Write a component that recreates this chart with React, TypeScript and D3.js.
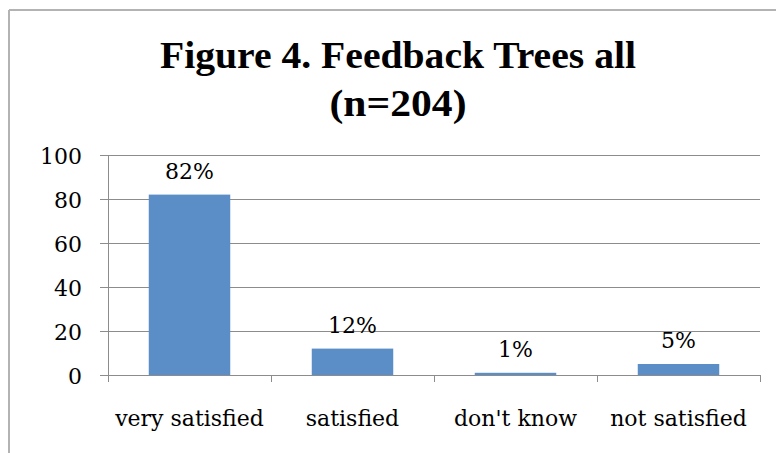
import React from "react";
import * as d3 from "d3";

const categories = ["very satisfied", "satisfied", "don't know", "not satisfied"];
const values = [82, 12, 1, 5];
const valueLabels = ["82%", "12%", "1%", "5%"];
const yTicks = [0, 20, 40, 60, 80, 100];
const titleLines = ["Figure 4. Feedback Trees all", "(n=204)"];

export default function App() {
  const W = 776, H = 453;
  const left = 108, right = 760, top = 155, bottom = 375;
  const x = d3.scaleBand<string>().domain(categories).range([left, right]).paddingInner(0.5).paddingOuter(0.25);
  const xb = d3.scaleBand<string>().domain(categories).range([left, right]);
  const y = d3.scaleLinear().domain([0, 100]).range([bottom, top]);
  const font = "'DejaVu Serif', 'Liberation Serif', serif";
  const titleFont = "'Liberation Serif', 'DejaVu Serif', serif";
  const grid = "#8c8c8c";
  return (
    <svg width={W} height={H} style={{ position: "absolute", left: 0, top: 0 }}>
      <rect x={0} y={0} width={W} height={H} fill="#fff" />
      <line x1={9} y1={10} x2={W} y2={10} stroke="#b3b3b3" strokeWidth={2} />
      <line x1={9} y1={10} x2={9} y2={H} stroke="#b3b3b3" strokeWidth={2} />
      <text x={398} y={68} textAnchor="middle" fontFamily={titleFont} fontWeight="bold" fontSize={38}
        textLength={476} lengthAdjust="spacingAndGlyphs" fill="#000">{titleLines[0]}</text>
      <text x={398} y={116} textAnchor="middle" fontFamily={titleFont} fontWeight="bold" fontSize={38}
        textLength={137} lengthAdjust="spacingAndGlyphs" fill="#000">{titleLines[1]}</text>
      {yTicks.map((t) => (
        <g key={t}>
          <line x1={100} x2={right} y1={Math.round(y(t)) + 0.5} y2={Math.round(y(t)) + 0.5} stroke={grid} strokeWidth={1} />
          <text x={82} y={y(t) + 9} textAnchor="end" fontFamily={font} fontSize={22} fill="#000">{t}</text>
        </g>
      ))}
      <line x1={left + 0.5} x2={left + 0.5} y1={top} y2={bottom + 7} stroke={grid} strokeWidth={1} />
      {categories.map((c) => (
        <line key={"t" + c} x1={Math.round((xb(c) as number) + xb.bandwidth()) + 0.5} x2={Math.round((xb(c) as number) + xb.bandwidth()) + 0.5}
          y1={bottom} y2={bottom + 7} stroke={grid} strokeWidth={1} />
      ))}
      {categories.map((c, i) => (
        <rect key={c} x={x(c)} y={y(values[i])} width={x.bandwidth()} height={bottom - y(values[i])} fill="#5b8ec6" />
      ))}
      {categories.map((c, i) => (
        <text key={"v" + c} x={(x(c) as number) + x.bandwidth() / 2} y={y(values[i]) - 16} textAnchor="middle"
          fontFamily={font} fontSize={22} fill="#000">{valueLabels[i]}</text>
      ))}
      {categories.map((c) => (
        <text key={"c" + c} x={(xb(c) as number) + xb.bandwidth() / 2} y={426} textAnchor="middle"
          fontFamily={font} fontSize={22} fill="#000">{c}</text>
      ))}
    </svg>
  );
}
